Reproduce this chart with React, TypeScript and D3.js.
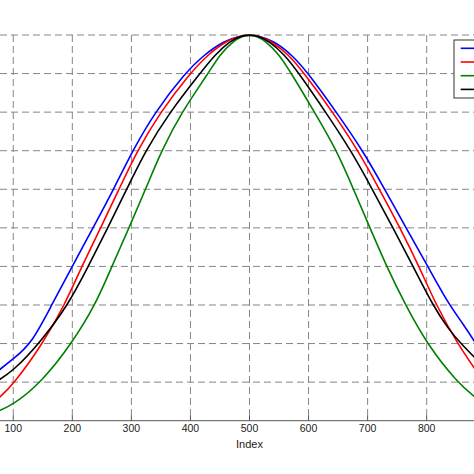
import React from "react";
import * as d3 from "d3";

// Readings from the reference: index positions and values per series
const blueIndex = [70, 100, 131, 165, 200, 235, 270, 302, 340, 390, 424, 457, 485, 500, 515, 541, 571, 600, 647, 692, 729, 765, 802, 838, 860, 885];
const blueValue = [0.124, 0.16, 0.2, 0.3, 0.4, 0.5, 0.6, 0.7, 0.8, 0.9, 0.95, 0.985, 0.998, 1.0, 0.998, 0.985, 0.95, 0.9, 0.8, 0.7, 0.6, 0.5, 0.4, 0.3, 0.255, 0.196];

const redIndex = [70, 100, 150, 187, 216, 248, 279, 310, 349, 399, 430, 461, 485, 500, 515, 536, 566, 593, 641, 684, 720, 755, 787, 816, 852, 885];
const redValue = [0.051, 0.093, 0.2, 0.3, 0.4, 0.5, 0.6, 0.7, 0.8, 0.9, 0.95, 0.985, 0.998, 1.0, 0.998, 0.985, 0.95, 0.9, 0.8, 0.7, 0.6, 0.5, 0.4, 0.3, 0.2, 0.127];

const greenIndex = [70, 100, 148, 199, 239, 267, 296, 324, 351, 385, 430, 450, 473, 488, 500, 512, 527, 550, 571, 610, 648, 676, 704, 732, 764, 800, 851, 885];
const greenValue = [0.022, 0.041, 0.1, 0.2, 0.3, 0.4, 0.5, 0.6, 0.7, 0.8, 0.9, 0.95, 0.985, 0.997, 1.0, 0.997, 0.985, 0.95, 0.9, 0.8, 0.7, 0.6, 0.5, 0.4, 0.3, 0.2, 0.1, 0.057];

const blackIndex = [70, 100, 144, 193, 227, 260, 292, 324, 365, 416, 442, 468, 486, 500, 514, 532, 559, 584, 629, 672, 708, 743, 777, 810, 838, 858, 885];
const blackValue = [0.1, 0.129, 0.2, 0.3, 0.4, 0.5, 0.6, 0.7, 0.8, 0.9, 0.95, 0.985, 0.998, 1.0, 0.998, 0.985, 0.95, 0.9, 0.8, 0.7, 0.6, 0.5, 0.4, 0.3, 0.235, 0.2, 0.158];

const seriesColors = ["#0000ff", "#ff0000", "#008000", "#000000"];
const xTicks = [100, 200, 300, 400, 500, 600, 700, 800];
const yTicks = [0.1, 0.2, 0.3, 0.4, 0.5, 0.6, 0.7, 0.8, 0.9, 1.0];
const xLabel = "Index";

export default function App() {
  const W = 474;
  const H = 474;
  const x = d3.scaleLinear().domain([0, 1000]).range([-45.8, 544.8]);
  const y = d3.scaleLinear().domain([0, 1]).range([420.7, 35]);
  const series = [
    { xs: blueIndex, ys: blueValue },
    { xs: redIndex, ys: redValue },
    { xs: greenIndex, ys: greenValue },
    { xs: blackIndex, ys: blackValue },
  ];
  const line = d3
    .line<[number, number]>()
    .x((d) => x(d[0]))
    .y((d) => y(d[1]))
    .curve(d3.curveBasis);
  const font = "'Liberation Sans', Arial, Helvetica, sans-serif";
  const legendTop = 40;
  const legendStep = 13.7;

  return (
    <svg
      width={W}
      height={H}
      style={{ position: "absolute", left: 0, top: 0, background: "#fff" }}
    >
      <rect x={0} y={0} width={W} height={H} fill="#fff" />
      {/* grid */}
      <g stroke="#858585" strokeWidth={1} strokeDasharray="7,4">
        {xTicks.map((t) => (
          <line key={"gx" + t} x1={x(t)} x2={x(t)} y1={y(1)} y2={y(0)} />
        ))}
        {yTicks.map((t) => (
          <line key={"gy" + t} x1={0} x2={W} y1={y(t)} y2={y(t)} />
        ))}
      </g>
      {/* bottom axis */}
      <line x1={0} x2={W} y1={y(0)} y2={y(0)} stroke="#555" strokeWidth={1} />
      {xTicks.map((t) => (
        <line key={"tk" + t} x1={x(t)} x2={x(t)} y1={y(0)} y2={y(0) - 5} stroke="#555" strokeWidth={1} />
      ))}
      {/* curves */}
      {series.map((s, i) => (
        <path
          key={"s" + i}
          d={line(s.xs.map((v, j) => [v, s.ys[j]] as [number, number])) || ""}
          fill="none"
          stroke={seriesColors[i]}
          strokeWidth={1.6}
        />
      ))}
      {/* tick labels */}
      {xTicks.map((t) => (
        <text
          key={"tl" + t}
          x={x(t)}
          y={432.3}
          textAnchor="middle"
          fontFamily={font}
          fontSize={10.5}
          fill="#222"
        >
          {t}
        </text>
      ))}
      <text x={x(500)} y={447.5} textAnchor="middle" fontFamily={font} fontSize={11} fill="#222">
        {xLabel}
      </text>
      {/* legend (cut by the right edge) */}
      <rect x={454} y={legendTop} width={60} height={58} fill="#fff" stroke="#333" strokeWidth={1} />
      {seriesColors.map((c, i) => (
        <line
          key={"lg" + i}
          x1={460.7}
          x2={490}
          y1={legendTop + 8.3 + i * legendStep}
          y2={legendTop + 8.3 + i * legendStep}
          stroke={c}
          strokeWidth={1.6}
        />
      ))}
    </svg>
  );
}
